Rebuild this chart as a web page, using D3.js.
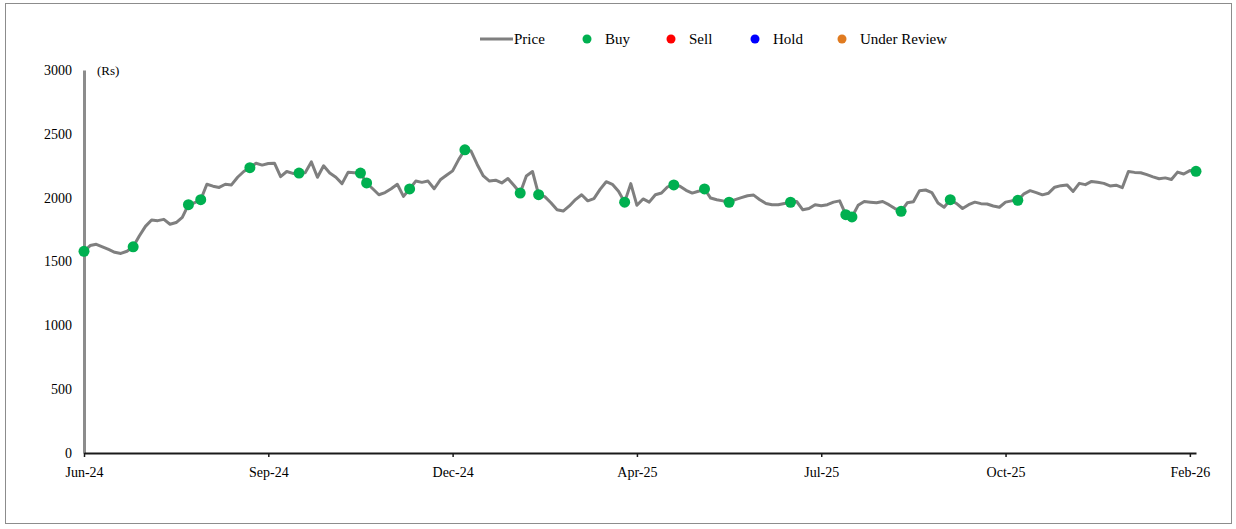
<!DOCTYPE html>
<html>
<head>
<meta charset="utf-8">
<script src="https://cdn.jsdelivr.net/npm/d3@7"></script>
<style>
  html, body { margin: 0; padding: 0; background: #ffffff; }
  svg { display: block; }
  text { font-family: "Liberation Serif", "Times New Roman", serif; fill: #000; }
</style>
</head>
<body>
<svg id="chart" width="1236" height="529"></svg>
<script>
// Price history, sampled every second trading session (Rs)
const prices = [
  1580,1625,1635,1615,1594,1572,1563,1580,1615,1700,
  1775,1825,1820,1830,1792,1805,1845,1945,1960,1984,
  2105,2090,2080,2105,2100,2160,2205,2235,2270,2255,
  2268,2270,2165,2205,2190,2193,2196,2280,2160,2250,
  2193,2160,2110,2200,2196,2193,2115,2070,2023,2040,
  2070,2105,2010,2068,2130,2120,2130,2070,2140,2175,
  2210,2300,2375,2365,2260,2170,2130,2137,2115,2150,
  2095,2036,2170,2205,2023,2008,1960,1905,1895,1935,
  1985,2023,1975,1993,2065,2125,2105,2050,1965,2110,
  1940,1990,1965,2023,2036,2085,2100,2090,2058,2036,
  2050,2068,1997,1984,1975,1964,1985,2000,2015,2020,
  1984,1955,1945,1945,1955,1964,1970,1905,1915,1945,
  1937,1945,1965,1975,1867,1849,1940,1970,1965,1960,
  1970,1945,1915,1893,1960,1968,2055,2060,2040,1958,
  1925,1984,1955,1915,1945,1965,1953,1950,1935,1925,
  1965,1975,1979,2030,2055,2040,2022,2035,2082,2094,
  2100,2049,2112,2102,2127,2120,2112,2092,2098,2078,
  2205,2198,2195,2180,2163,2148,2155,2142,2200,2185,
  2212,2206
];

// Sample positions where a Buy rating was issued
const buyIdx = [0, 8, 17, 19, 27, 35, 45, 46, 53, 62, 71, 74, 88, 96, 101, 105, 115, 124, 125, 133, 141, 152, 181];

// Axis labels
const xTickLabels = ["Jun-24", "Sep-24", "Dec-24", "Apr-25", "Jul-25", "Oct-25", "Feb-26"];
const xTickStep = 30;
const yTicks = [0, 500, 1000, 1500, 2000, 2500, 3000];

// Legend entries
const legendNames = ["Price", "Buy", "Sell", "Hold", "Under Review"];
const legendColors = ["#7f7f7f", "#00b050", "#ff0000", "#0000ff", "#e07b20"];

const svg = d3.select("#chart");

// Outer frame
svg.append("rect")
  .attr("x", 5.5).attr("y", 3.5)
  .attr("width", 1226).attr("height", 520)
  .attr("fill", "none").attr("stroke", "#8c8c8c").attr("stroke-width", 1);

const x = d3.scaleLinear().domain([0, prices.length - 1]).range([84, 1196]);
const y = d3.scaleLinear().domain([0, 3000]).range([453, 70]);

// Y axis: grey rule with labels only
const yAxis = d3.axisLeft(y).tickValues(yTicks).tickSize(0).tickPadding(12).tickFormat(d3.format("d"));
const gy = svg.append("g").attr("transform", "translate(84,0)").call(yAxis);
gy.select(".domain").attr("stroke", "#8c8c8c").attr("stroke-width", 3);
gy.selectAll("text").style("font-family", "'Liberation Serif', serif").style("font-size", "14px").attr("fill", "#000");

// X axis
const xAxis = d3.axisBottom(x)
  .tickValues(xTickLabels.map((_, i) => i * xTickStep))
  .tickFormat((d, i) => xTickLabels[i])
  .tickSize(4).tickSizeOuter(0).tickPadding(10);
const gx = svg.append("g").attr("transform", "translate(0,453)").call(xAxis);
gx.select(".domain").attr("stroke", "#1a1a1a").attr("stroke-width", 2);
gx.selectAll(".tick line").attr("stroke", "#1a1a1a").attr("stroke-width", 1.5);
gx.selectAll("text").style("font-family", "'Liberation Serif', serif").style("font-size", "14px").attr("fill", "#000");

// Unit label
svg.append("text").attr("x", 97).attr("y", 75).style("font-size", "13px").text("(Rs)");

// Price line
const line = d3.line().x((d, i) => x(i)).y(d => y(d));
svg.append("path")
  .datum(prices)
  .attr("d", line)
  .attr("fill", "none")
  .attr("stroke", "#7f7f7f")
  .attr("stroke-width", 3)
  .attr("stroke-linejoin", "round");

// Buy markers
svg.append("g").selectAll("circle")
  .data(buyIdx)
  .join("circle")
  .attr("cx", i => x(i))
  .attr("cy", i => y(prices[i]))
  .attr("r", 5.5)
  .attr("fill", "#00b050");

// Legend
const legendX = [480, 587, 671, 755, 842];
const lg = svg.append("g");
legendNames.forEach((name, i) => {
  const g = lg.append("g").attr("transform", `translate(${legendX[i]},39)`);
  if (i === 0) {
    g.append("line").attr("x1", 0).attr("x2", 33).attr("y1", 0).attr("y2", 0)
      .attr("stroke", legendColors[i]).attr("stroke-width", 3);
    g.append("text").attr("x", 34).attr("y", 5).style("font-size", "15px").text(name);
  } else {
    g.append("circle").attr("cx", 0).attr("cy", 0).attr("r", 4.5).attr("fill", legendColors[i]);
    g.append("text").attr("x", 18).attr("y", 5).style("font-size", "15px").text(name);
  }
});
</script>
</body>
</html>
